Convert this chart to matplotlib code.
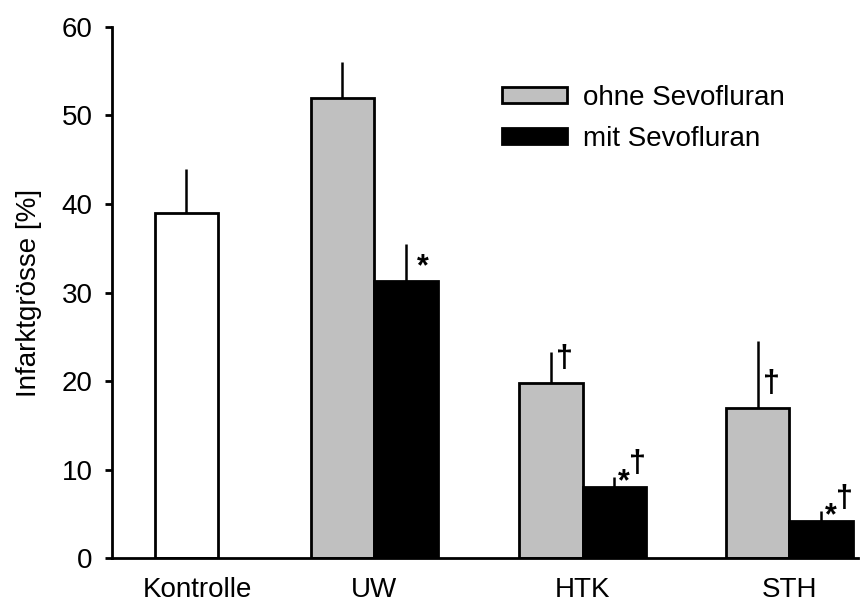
import numpy as np
import matplotlib
matplotlib.use("Agg")
import matplotlib.pyplot as plt
from matplotlib.patches import Patch

plt.rcParams['font.family'] = ['Liberation Sans', 'DejaVu Sans']

# infarct size in percent, mean and upper error (SD)
control_label = "Kontrolle"
control_mean = 39.0
control_err = 5.0

groups = ["UW", "HTK", "STH"]
ohne_mean = [52.0, 19.8, 17.0]
ohne_err = [4.0, 3.5, 7.5]
mit_mean = [31.3, 8.0, 4.2]
mit_err = [4.2, 1.2, 1.1]

# significance marks: * vs ohne Sevofluran, † vs UW
ohne_marks = ["", "†", "†"]
mit_marks = ["*", "*†", "*†"]

series_labels = ["ohne Sevofluran", "mit Sevofluran"]

control_x = 0.0
group_x = np.array([2.96, 6.24, 9.5])
width = 1.0
FS = 20

fig = plt.figure(figsize=(8.61, 6.08), dpi=100)
ax = fig.add_axes([0.1301, 0.0822, 0.8665, 0.8734])

bar_kw = dict(width=width, edgecolor="black", linewidth=2.0)
err_kw = dict(elinewidth=1.8, capsize=0, ecolor="black")

ax.bar(control_x, control_mean, color="white",
       yerr=[[0], [control_err]], error_kw=err_kw, **bar_kw)
ax.bar(group_x - width / 2, ohne_mean, color="#c0c0c0",
       yerr=[np.zeros(3), ohne_err], error_kw=err_kw, **bar_kw)
ax.bar(group_x + width / 2, mit_mean, color="black",
       yerr=[np.zeros(3), mit_err], error_kw=err_kw, **bar_kw)


def star(xc, y, dx, dy):
    ax.annotate("*", (xc, y), xytext=(dx, dy), textcoords="offset points",
                ha="center", va="center", fontsize=22, fontweight="bold")


def dagger(xc, y, dx, dy):
    ax.annotate("†", (xc, y), xytext=(dx, dy), textcoords="offset points",
                ha="center", va="center", fontsize=22, fontweight="bold")


def put_marks(xc, top, err, mark):
    # single marks sit beside the error line, pairs above its end
    if mark == "*":
        star(xc, top, 12, 10)
    elif mark == "†":
        dagger(xc, top, 10, 17)
    elif mark == "*†":
        star(xc, top + err, 7, -4)
        dagger(xc, top + err, 17, 9)


for xc, m, e, mk in zip(group_x - width / 2, ohne_mean, ohne_err, ohne_marks):
    put_marks(xc, m, e, mk)
for xc, m, e, mk in zip(group_x + width / 2, mit_mean, mit_err, mit_marks):
    put_marks(xc, m, e, mk)

ax.set_xlim(-1.17, 10.58)
ax.set_ylim(0, 60)
ax.set_yticks(np.arange(0, 61, 10))
ax.set_xticks([control_x + 0.17] + list(group_x))
ax.set_xticklabels([control_label] + groups)
ax.tick_params(axis="x", length=0, pad=14, labelsize=FS)
ax.tick_params(axis="y", direction="out", length=5, width=2, labelsize=FS, pad=9)
ax.set_ylabel("Infarktgrösse [%]", fontsize=FS, labelpad=14)

for side in ["top", "right"]:
    ax.spines[side].set_visible(False)
for side in ["left", "bottom"]:
    ax.spines[side].set_linewidth(2.0)

handles = [Patch(facecolor="#c0c0c0", edgecolor="black", linewidth=2.0),
           Patch(facecolor="black", edgecolor="black", linewidth=2.0)]
ax.legend(handles, series_labels, frameon=False, fontsize=FS,
          loc="upper left", bbox_to_anchor=(0.583, 0.860),
          bbox_transform=fig.transFigure,
          handlelength=2.35, handleheight=0.5, handletextpad=0.55,
          labelspacing=0.52, borderaxespad=0, borderpad=0)

fig.savefig("out.png", dpi=100)
